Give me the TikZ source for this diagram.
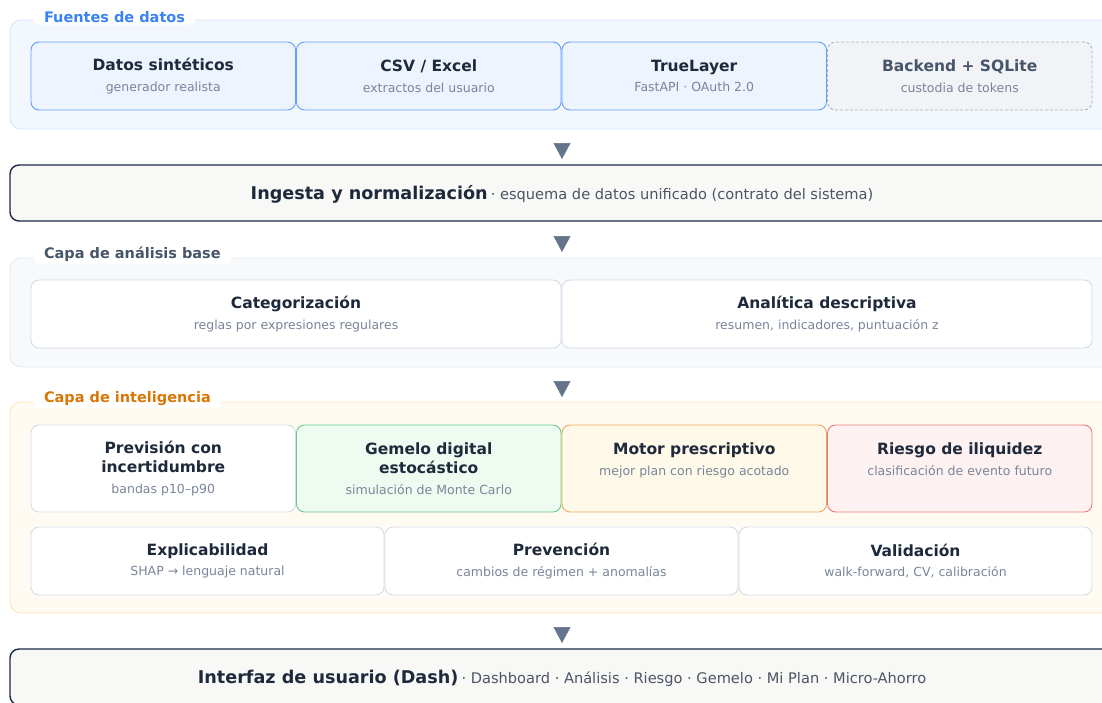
\documentclass[tikz,border=0pt]{standalone}
\usepackage{fontspec}
\setmainfont{DejaVu Sans}
\usepackage{xcolor}
\usepackage{tikz}
\usetikzlibrary{arrows.meta, positioning}

\definecolor{ink}{HTML}{1E293B}
\definecolor{subtxt}{HTML}{7A8599}
\definecolor{bartxt}{HTML}{4B5563}
\definecolor{flowc}{HTML}{64748B}
\definecolor{srcfill}{HTML}{EEF4FE}
\definecolor{srcline}{HTML}{62A0F6}
\definecolor{srcpanel}{HTML}{F3F7FE}
\definecolor{srcpline}{HTML}{D4E3FA}
\definecolor{srctag}{HTML}{3B82F6}
\definecolor{bkfill}{HTML}{F1F3F6}
\definecolor{bkline}{HTML}{AAB2BD}
\definecolor{slate}{HTML}{475569}
\definecolor{barfill}{HTML}{F8F8F7}
\definecolor{barline}{HTML}{1C2A46}
\definecolor{basepanel}{HTML}{F7F9FB}
\definecolor{basepline}{HTML}{E2E8F0}
\definecolor{cardline}{HTML}{D3DCE6}
\definecolor{intpanel}{HTML}{FFFBF3}
\definecolor{intpline}{HTML}{FCE2B4}
\definecolor{inttag}{HTML}{D97706}
\definecolor{twinfill}{HTML}{EDFBF1}
\definecolor{twinline}{HTML}{6CC98B}
\definecolor{prescfill}{HTML}{FEF9E9}
\definecolor{prescline}{HTML}{ECAA5C}
\definecolor{riskfill}{HTML}{FEF1F2}
\definecolor{riskline}{HTML}{E57B78}

% title + grey subtitle inside a card
\newcommand{\cardtxt}[2]{{\bfseries #1}\\[1.5pt]{\fontsize{12.5}{15}\selectfont\color{subtxt}#2}}
% same, with the title on two lines
\newcommand{\cardtxtii}[3]{{\bfseries #1}\\{\bfseries #2}\\[1.5pt]{\fontsize{12.5}{15}\selectfont\color{subtxt}#3}}

\begin{document}
\begin{tikzpicture}[
  x=1pt, y=-1pt,
  every node/.style={outer sep=0pt},
  panel/.style={rounded corners=11pt, line width=0.8pt, anchor=north west, minimum width=1104pt, inner sep=0pt},
  tag/.style={fill=white, rounded corners=5pt, anchor=west, inner xsep=10.5pt, inner ysep=2pt, font=\fontsize{14.5}{16}\selectfont\bfseries},
  bar/.style={draw=barline, fill=barfill, line width=1.4pt, rounded corners=9pt, anchor=north west, minimum width=1104pt, minimum height=56pt, inner sep=0pt},
  bartext/.style={text=ink, inner sep=0pt},
  card/.style={draw=cardline, fill=white, line width=0.9pt, rounded corners=8pt, align=center, inner sep=0pt, anchor=north west, minimum height=68pt, text=ink, font=\fontsize{15.5}{19}\selectfont},
  src/.style={card, draw=srcline, fill=srcfill, minimum width=264.5pt},
  half/.style={card, minimum width=530pt},
  quad/.style={card, minimum width=264.5pt, minimum height=87pt},
  third/.style={card, minimum width=353pt},
  flow/.style={-{Triangle[length=16pt, width=17pt]}, draw=flowc, line width=0.5pt}
]
  \useasboundingbox (0,0) rectangle (1102,702);
  \clip (0,0) rectangle (1102,702);

  % Data sources
  \node[panel, draw=srcpline, fill=srcpanel, minimum height=109pt] (fuentes) at (10,20) {};
  \node[tag, text=srctag] (fuentes_tag) at (33.5,17) {Fuentes de datos};
  \node[src] (synth) at (31,42) {\cardtxt{Datos sintéticos}{generador realista}};
  \node[src, right=1pt of synth] (csv) {\cardtxt{CSV / Excel}{extractos del usuario}};
  \node[src, right=1pt of csv] (truelayer) {\cardtxt{TrueLayer}{FastAPI · OAuth 2.0}};
  \node[src, draw=bkline, fill=bkfill, dashed, dash pattern=on 3pt off 2pt, text=slate, right=1pt of truelayer] (backend) {\cardtxt{Backend + SQLite}{custodia de tokens}};

  % Ingestion bar
  \node[bar] (ingesta) at (10,165) {};
  \node[bartext] (ingesta_txt) at ([yshift=-1pt]ingesta.center) {{\bfseries\fontsize{17.6}{20}\selectfont Ingesta y normalización} {\color{bartxt}\fontsize{14.6}{17}\selectfont · esquema de datos unificado (contrato del sistema)}};
  \draw[flow] ([yshift=-14pt]fuentes.south) -- ([yshift=6pt]ingesta.north);

  % Base analysis layer
  \node[panel, draw=basepline, fill=basepanel, minimum height=109pt] (analisis) at (10,258) {};
  \node[tag, text=slate] (analisis_tag) at (33.5,254.5) {Capa de análisis base};
  \node[half] (categ) at (31,280) {\cardtxt{Categorización}{reglas por expresiones regulares}};
  \node[half, right=1pt of categ] (descr) {\cardtxt{Analítica descriptiva}{resumen, indicadores, puntuación z}};
  \draw[flow] ([yshift=-15pt]ingesta.south) -- ([yshift=6pt]analisis.north);

  % Intelligence layer
  \node[panel, draw=intpline, fill=intpanel, minimum height=211pt] (intel) at (10,402) {};
  \node[tag, text=inttag] (intel_tag) at (33.5,399) {Capa de inteligencia};
  \node[quad] (prevision) at (31,425) {\cardtxtii{Previsión con}{incertidumbre}{bandas p10–p90}};
  \node[quad, draw=twinline, fill=twinfill, right=1pt of prevision] (gemelo) {\cardtxtii{Gemelo digital}{estocástico}{simulación de Monte Carlo}};
  \node[quad, draw=prescline, fill=prescfill, right=1pt of gemelo] (motor) {\cardtxt{Motor prescriptivo}{mejor plan con riesgo acotado}\\\mbox{}};
  \node[quad, draw=riskline, fill=riskfill, right=1pt of motor] (riesgo) {\cardtxt{Riesgo de iliquidez}{clasificación de evento futuro}\\\mbox{}};
  \node[third] (explic) at (31,527) {\cardtxt{Explicabilidad}{SHAP → lenguaje natural}};
  \node[third, right=1pt of explic] (prevencion) {\cardtxt{Prevención}{cambios de régimen + anomalías}};
  \node[third, right=1pt of prevencion] (valid) {\cardtxt{Validación}{walk-forward, CV, calibración}};
  \draw[flow] ([yshift=-14pt]analisis.south) -- ([yshift=5pt]intel.north);

  % User interface bar
  \node[bar] (interfaz) at (10,649) {};
  \node[bartext] (interfaz_txt) at ([yshift=-1pt]interfaz.center) {{\bfseries\fontsize{17.6}{20}\selectfont Interfaz de usuario (Dash)} {\color{bartxt}\fontsize{14.6}{17}\selectfont · Dashboard · Análisis · Riesgo · Gemelo · Mi Plan · Micro-Ahorro}};
  \draw[flow] ([yshift=-14pt]intel.south) -- ([yshift=6pt]interfaz.north);

\end{tikzpicture}
\end{document}
